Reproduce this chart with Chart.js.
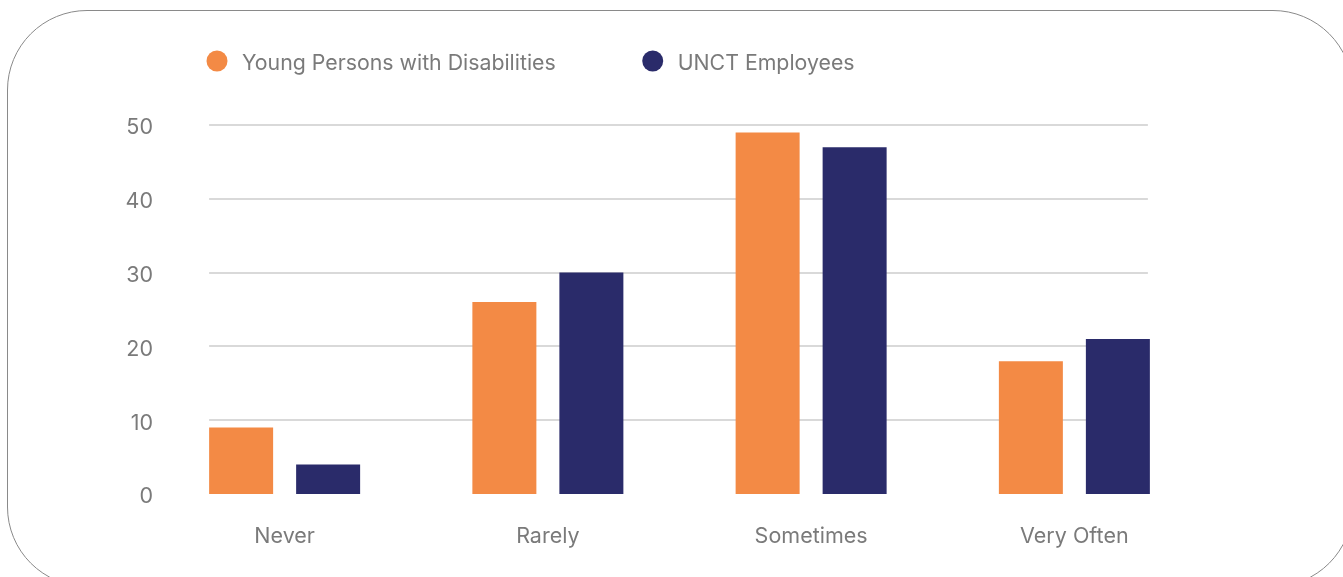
<!DOCTYPE html>
<html>
<head>
<meta charset="utf-8">
<script src="https://cdn.jsdelivr.net/npm/chart.js"></script>
<style>
  html, body { margin: 0; padding: 0; background: #fff; overflow: hidden; }
  #wrap { position: relative; width: 1343px; height: 577px; overflow: hidden; }
  #frame {
    position: absolute; left: 7px; top: 10px; width: 1346px; height: 577px;
    box-sizing: border-box; border: 1px solid #8a8a8a; border-radius: 80px;
  }
  #chart { position: absolute; left: 0; top: 0; }
</style>
</head>
<body>
<div id="wrap">
  <div id="frame"></div>
  <canvas id="chart" width="1343" height="577"></canvas>
</div>
<script>
const categories = ["Never", "Rarely", "Sometimes", "Very Often"];
const youthValues = [9, 26, 49, 18];
const unctValues = [4, 30, 47, 21];
const seriesNames = ["Young Persons with Disabilities", "UNCT Employees"];
const yTicks = [0, 10, 20, 30, 40, 50];

const orange = "#f38a45";
const navy = "#2a2b6a";
const textGrey = "#7a7a7a";
const fontFamily = "Inter, 'Noto Sans', sans-serif";

// y grid lines only span the bar groups, not the full chart area
const gridPlugin = {
    id: "shortGrid",
    beforeDatasetsDraw(chart) {
        const { ctx, scales: { y } } = chart;
        const first = chart.getDatasetMeta(0).data[0];
        const lastMeta = chart.getDatasetMeta(chart.data.datasets.length - 1);
        const last = lastMeta.data[lastMeta.data.length - 1];
        const x0 = first.x - first.width / 2;
        const x1 = last.x + last.width / 2 - 2;
        ctx.save();
        ctx.strokeStyle = "#d9d9d9";
        ctx.lineWidth = 2;
        yTicks.filter(t => t > 0).forEach(t => {
            const py = Math.round(y.getPixelForValue(t));
            ctx.beginPath();
            ctx.moveTo(x0, py);
            ctx.lineTo(x1, py);
            ctx.stroke();
        });
        ctx.restore();
    }
};

const legendPlugin = {
    id: "dotLegend",
    afterDraw(chart) {
        const { ctx } = chart;
        let x = 206;
        const cy = 61;
        ctx.save();
        ctx.font = `21.3px ${fontFamily}`;
        ctx.textBaseline = "middle";
        chart.data.datasets.forEach(ds => {
            ctx.fillStyle = ds.backgroundColor;
            ctx.beginPath();
            ctx.arc(x + 11, cy, 10.5, 0, Math.PI * 2);
            ctx.fill();
            ctx.fillStyle = textGrey;
            ctx.fillText(ds.label, x + 36, cy + 2.5);
            x += 36 + ctx.measureText(ds.label).width + 86;
        });
        ctx.restore();
    }
};

new Chart(document.getElementById("chart"), {
    type: "bar",
    data: {
        labels: categories,
        datasets: [
            { label: seriesNames[0], data: youthValues, backgroundColor: orange },
            { label: seriesNames[1], data: unctValues, backgroundColor: navy }
        ]
    },
    options: {
        responsive: false,
        animation: false,
        categoryPercentage: 0.661,
        barPercentage: 0.7356,
        layout: { padding: { left: 0, right: 137, top: 125, bottom: 0 } },
        plugins: {
            legend: { display: false },
            tooltip: { enabled: false }
        },
        scales: {
            x: {
                grid: { display: false, drawTicks: false },
                border: { display: false },
                ticks: { color: textGrey, font: { family: fontFamily, size: 21.5 }, padding: 30 },
                afterFit(scale) { scale.height = 83; }
            },
            y: {
                min: 0,
                max: 50,
                grid: { display: false, drawTicks: false },
                border: { display: false },
                ticks: { stepSize: 10, color: textGrey, font: { family: fontFamily, size: 21.5 }, padding: 0, labelOffset: 3 },
                afterFit(scale) { scale.width = 153; }
            }
        }
    },
    plugins: [gridPlugin, legendPlugin]
});
</script>
</body>
</html>
